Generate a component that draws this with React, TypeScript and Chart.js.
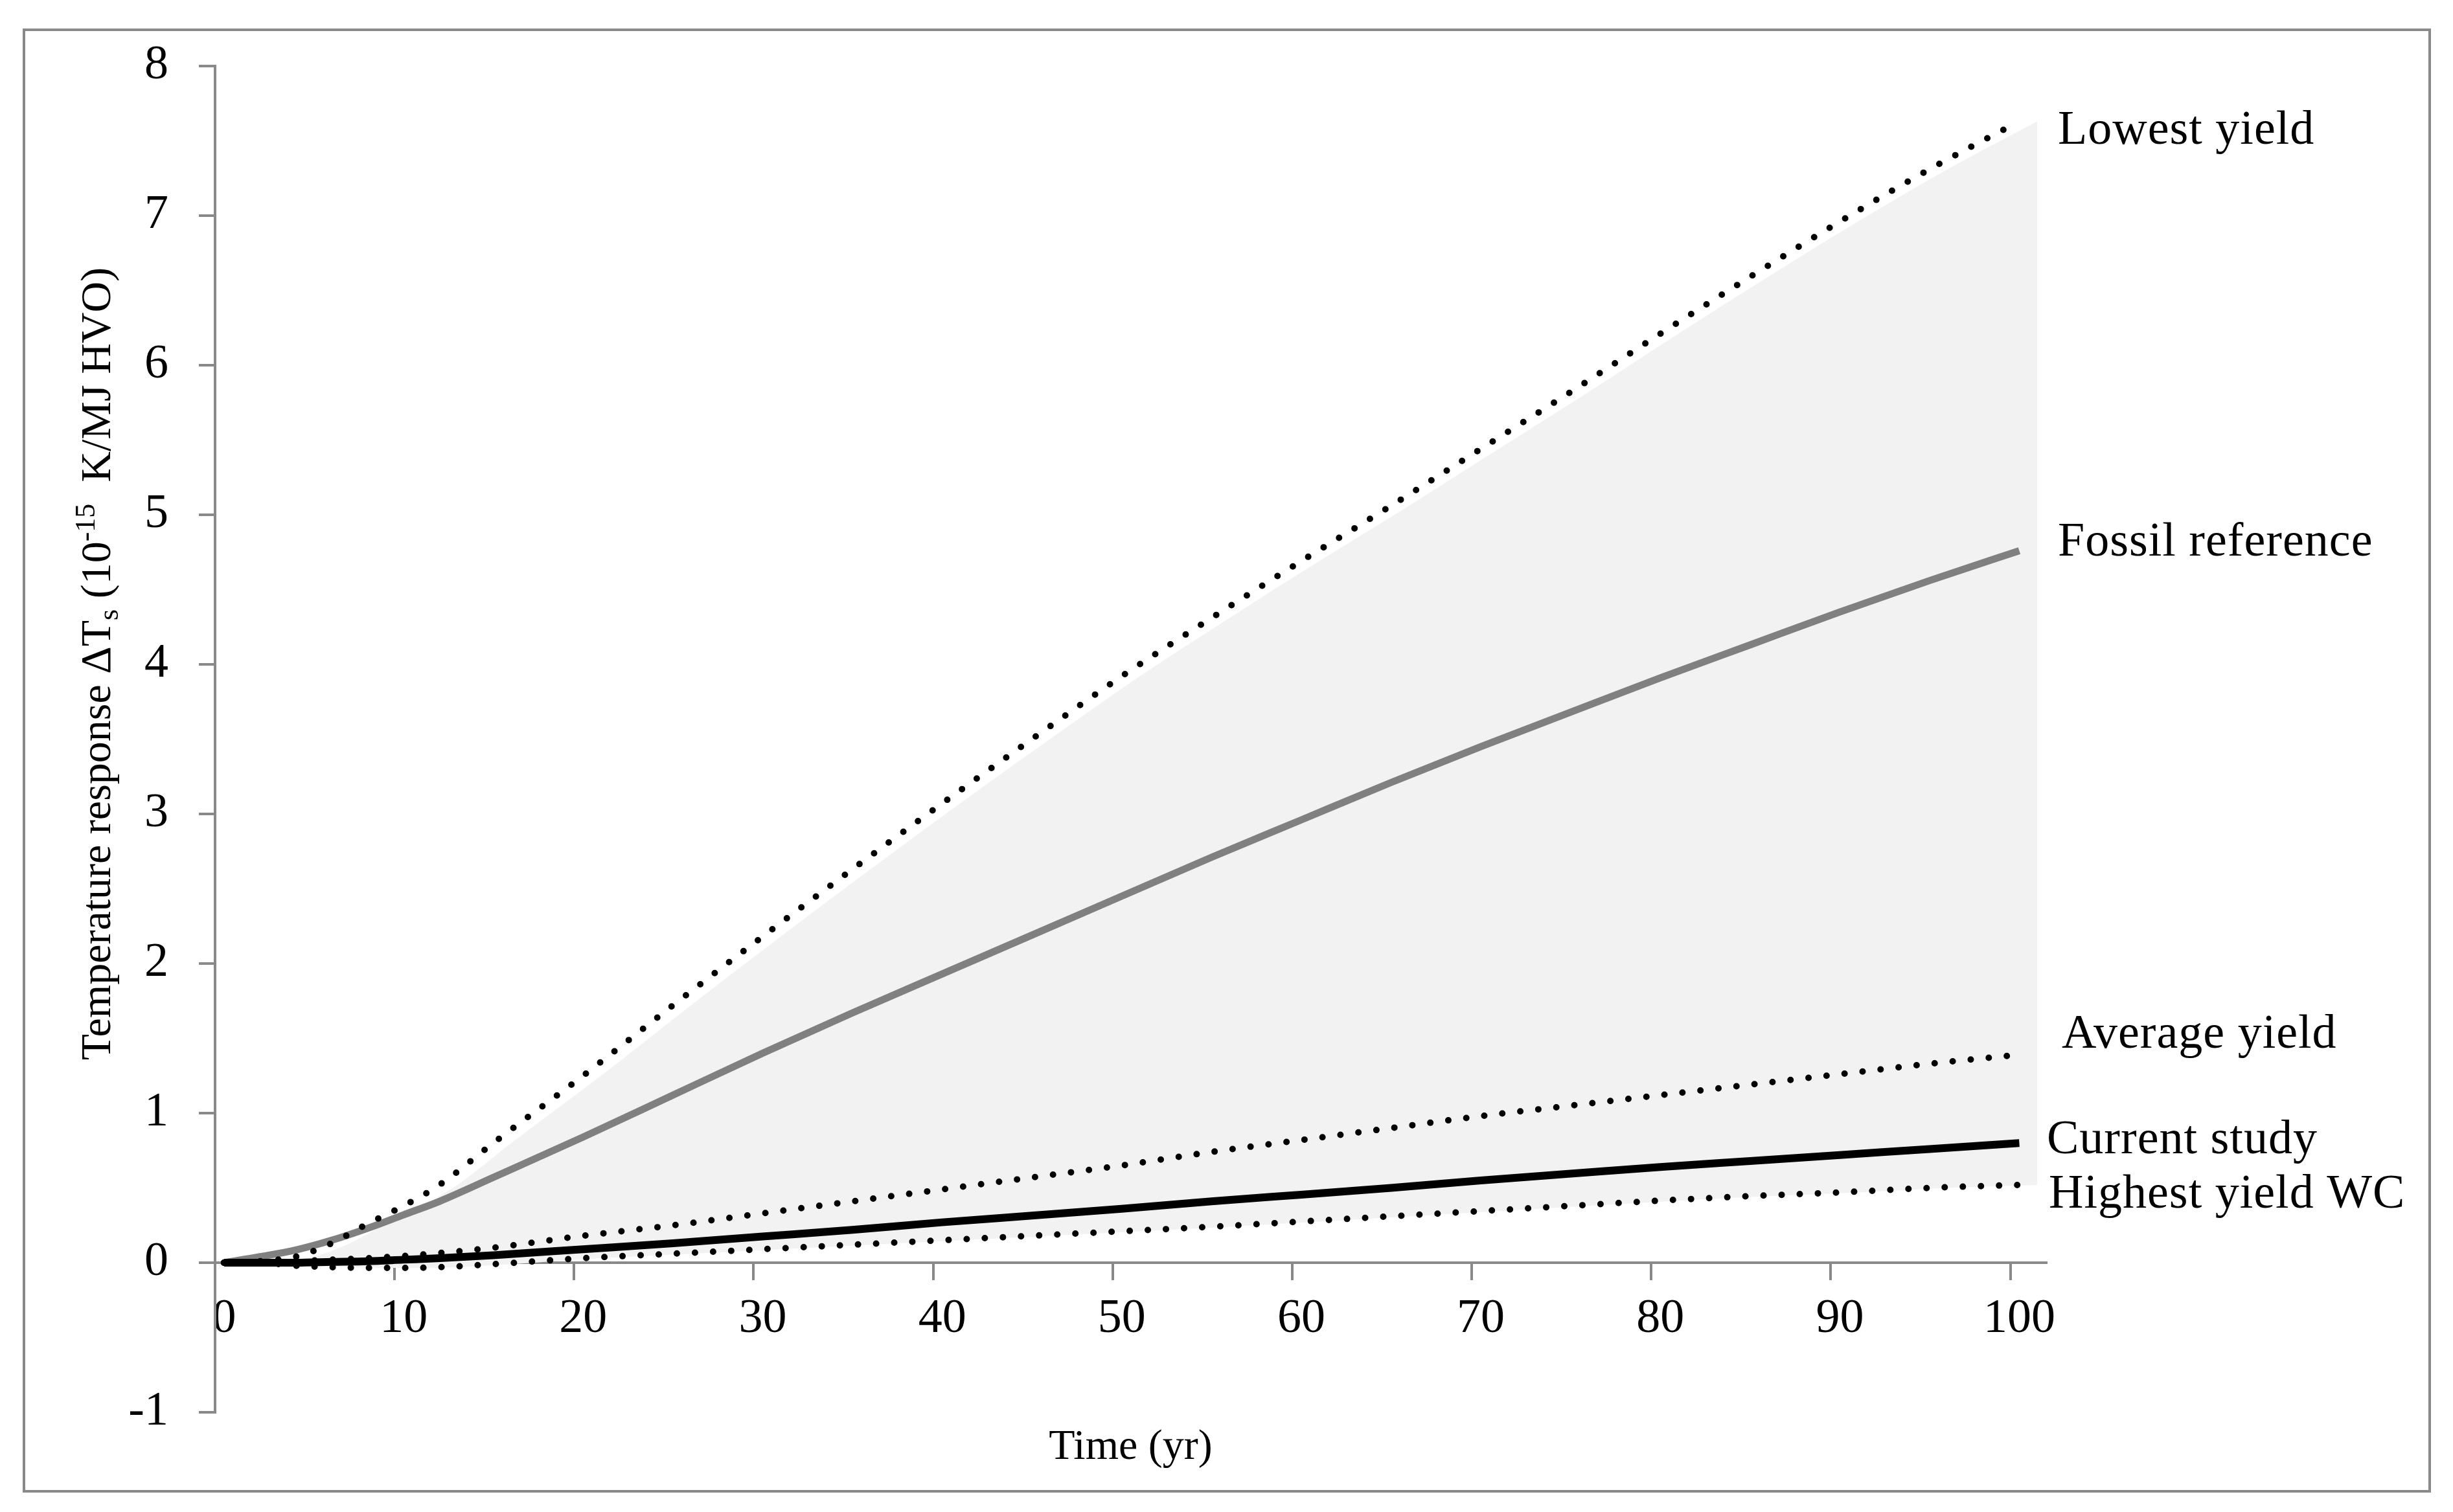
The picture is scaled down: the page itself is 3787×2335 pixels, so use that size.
import React, { useEffect, useRef } from 'react';
import { Chart, registerables } from 'chart.js';

Chart.register(...registerables);

const W = 3787;
const H = 2335;
const FONT = "'Liberation Serif', 'Times New Roman', serif";

// ---- data (years and temperature response, 10^-15 K/MJ HVO) ----
const years = [0, 2, 4, 6, 8, 10, 12, 15, 20, 25, 30, 35, 40, 45, 50, 55, 60, 65, 70, 75, 80, 85, 90, 95, 100];
const lowestYield = [0, 0.01, 0.04, 0.13, 0.26, 0.38, 0.52, 0.8, 1.25, 1.72, 2.18, 2.63, 3.07, 3.5, 3.92, 4.31, 4.69, 5.06, 5.44, 5.82, 6.21, 6.59, 6.96, 7.31, 7.63];
const fossilReference = [0, 0.04, 0.085, 0.15, 0.23, 0.32, 0.41, 0.57, 0.84, 1.12, 1.4, 1.67, 1.93, 2.19, 2.45, 2.71, 2.96, 3.21, 3.45, 3.68, 3.91, 4.13, 4.35, 4.56, 4.76];
const averageYield = [0, 0, 0.01, 0.02, 0.03, 0.045, 0.065, 0.1, 0.18, 0.25, 0.33, 0.41, 0.49, 0.57, 0.65, 0.74, 0.82, 0.9, 0.98, 1.05, 1.12, 1.19, 1.26, 1.33, 1.39];
const currentStudy = [0, 0, 0, 0.005, 0.01, 0.02, 0.03, 0.05, 0.09, 0.13, 0.175, 0.22, 0.27, 0.315, 0.36, 0.41, 0.455, 0.5, 0.55, 0.595, 0.64, 0.68, 0.72, 0.76, 0.8];
const highestYieldWC = [0, 0, -0.02, -0.03, -0.035, -0.035, -0.03, -0.01, 0.03, 0.06, 0.09, 0.12, 0.15, 0.18, 0.21, 0.24, 0.275, 0.31, 0.345, 0.38, 0.415, 0.445, 0.47, 0.5, 0.52];

const xTickLabels = [0, 10, 20, 30, 40, 50, 60, 70, 80, 90, 100];
const yMin = -1;
const yMax = 8;

const seriesNames = ['Lowest yield', 'Fossil reference', 'Average yield', 'Current study', 'Highest yield WC'];
const xTitle = 'Time (yr)';

export default function App() {
  const ref = useRef<HTMLCanvasElement>(null);

  useEffect(() => {
    if (!ref.current) return;
    const pts = (vals: number[], shift = 0) => years.map((yr, i) => ({ x: yr + shift, y: vals[i] }));

    const dotted = {
      borderColor: '#000000',
      borderWidth: 10,
      borderDash: [0, 28],
      borderCapStyle: 'round' as const,
      pointRadius: 0,
      fill: false,
      cubicInterpolationMode: 'monotone' as const,
    };

    const textPlugin = {
      id: 'decor',
      beforeDraw(chart: any) {
        const ctx = chart.ctx;
        ctx.save();
        ctx.fillStyle = '#ffffff';
        ctx.fillRect(0, 0, W, H);
        ctx.strokeStyle = '#898989';
        ctx.lineWidth = 4;
        ctx.strokeRect(37, 46, 3714, 2257);
        ctx.restore();
      },
      afterDraw(chart: any) {
        const ctx = chart.ctx;
        ctx.save();
        ctx.fillStyle = '#000000';
        ctx.textBaseline = 'alphabetic';
        ctx.textAlign = 'left';
        // series labels at the right
        ctx.font = `74px ${FONT}`;
        try { (ctx as any).letterSpacing = '1px'; } catch (e) {}
        const labelPos: [number, number][] = [
          [3177, 222],
          [3177, 858],
          [3183, 1618],
          [3160, 1781],
          [3163, 1865],
        ];
        seriesNames.forEach((n, i) => ctx.fillText(n, labelPos[i][0], labelPos[i][1]));
        try { (ctx as any).letterSpacing = '0px'; } catch (e) {}

        // x title
        const xs = chart.scales.x;
        ctx.font = `66px ${FONT}`;
        ctx.textAlign = 'center';
        ctx.fillText(xTitle, (xs.left + xs.right) / 2, 2253);

        // y title (rich text, rotated)
        const segs = [
          { t: 'Temperature response \u0394T', s: 66, dy: 0 },
          { t: 's', s: 44, dy: 12 },
          { t: ' (10', s: 66, dy: 0 },
          { t: '-15', s: 44, dy: -24 },
          { t: '  K/MJ HVO)', s: 66, dy: 0 },
        ];
        let total = 0;
        const widths = segs.map((sg) => {
          ctx.font = `${sg.s}px ${FONT}`;
          const w = ctx.measureText(sg.t).width;
          total += w;
          return w;
        });
        ctx.translate(170, 1025);
        ctx.rotate(-Math.PI / 2);
        ctx.textAlign = 'left';
        let cx = -total / 2;
        segs.forEach((sg, i) => {
          ctx.font = `${sg.s}px ${FONT}`;
          ctx.fillText(sg.t, cx, sg.dy);
          cx += widths[i];
        });
        ctx.restore();
      },
    };

    const chart = new Chart(ref.current, {
      type: 'line',
      data: {
        datasets: [
          { label: seriesNames[3], data: pts(currentStudy), borderColor: '#000000', borderWidth: 12, pointRadius: 0, fill: false, cubicInterpolationMode: 'monotone' },
          { label: seriesNames[0], data: pts(lowestYield), ...dotted },
          { label: seriesNames[2], data: pts(averageYield), ...dotted },
          { label: seriesNames[4], data: pts(highestYieldWC), ...dotted },
          { label: seriesNames[1], data: pts(fossilReference), borderColor: '#808080', borderWidth: 11, pointRadius: 0, fill: false, cubicInterpolationMode: 'monotone' },
          { label: 'range top', data: pts(lowestYield, 1), borderWidth: 0, borderColor: 'rgba(0,0,0,0)', backgroundColor: '#f2f2f2', pointRadius: 0, fill: '+1', cubicInterpolationMode: 'monotone' },
          { label: 'range bottom', data: pts(highestYieldWC, 1), borderWidth: 0, borderColor: 'rgba(0,0,0,0)', pointRadius: 0, fill: false, cubicInterpolationMode: 'monotone' },
        ],
      } as any,
      options: {
        animation: false,
        responsive: false,
        events: [],
        layout: { padding: { left: 0, top: 102, right: W - 3159, bottom: H - 2181 } },
        plugins: {
          legend: { display: false },
          tooltip: { enabled: false },
          filler: { drawTime: 'beforeDatasetsDraw' },
        },
        scales: {
          x: {
            type: 'linear',
            position: { y: 0 } as any,
            min: -0.5,
            max: 101.5,
            afterBuildTicks: (scale: any) => {
              scale.ticks = xTickLabels.map((v) => ({ value: v - 0.5 }));
            },
            ticks: {
              callback: (v: any) => String(Math.round(Number(v) + 0.5)),
              labelOffset: 14,
              padding: 18,
              maxRotation: 0,
              autoSkip: false,
              color: '#000000',
              font: { family: FONT, size: 74 },
            },
            grid: { drawOnChartArea: false, drawTicks: true, tickLength: 25, color: '#898989', lineWidth: 4 },
            border: { display: true, color: '#898989', width: 4 },
          },
          y: {
            type: 'linear',
            position: 'left',
            min: yMin,
            max: yMax,
            afterFit: (scale: any) => { scale.width = 332; },
            ticks: {
              stepSize: 1,
              padding: 47,
              color: '#000000',
              font: { family: FONT, size: 74 },
            },
            grid: { drawOnChartArea: false, drawTicks: true, tickLength: 25, color: '#898989', lineWidth: 4 },
            border: { display: true, color: '#898989', width: 4 },
          },
        },
      } as any,
      plugins: [textPlugin],
    });
    return () => chart.destroy();
  }, []);

  return (
    <div style={{ position: 'absolute', left: 0, top: 0, width: W, height: H, background: '#fff' }}>
      <canvas ref={ref} width={W} height={H} style={{ width: W, height: H, display: 'block' }} />
    </div>
  );
}
